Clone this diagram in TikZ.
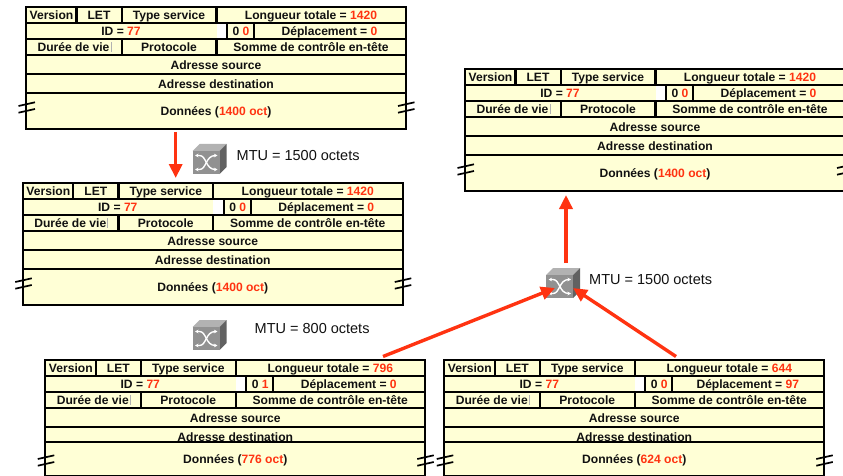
\documentclass[tikz,border=0pt]{standalone}
\usepackage{fontspec}
\setmainfont{Liberation Sans}
\usetikzlibrary{arrows.meta}
\definecolor{cream}{HTML}{FFFFD6}
\definecolor{redtxt}{HTML}{FF3311}
\definecolor{redarr}{HTML}{FF3311}
\definecolor{inkc}{HTML}{111111}
\tikzset{
  x=1pt,y=-1pt,
  rule/.style={line width=2.1pt,draw=black},
  cell/.style={inner sep=0pt,font=\fontsize{12.1}{13}\selectfont\bfseries,text=inkc,text height=8.6pt,text depth=2.4pt},
  mtu/.style={inner sep=0pt,font=\fontsize{14.5}{16}\selectfont,text=inkc,anchor=west},
  arr/.style={draw=redarr,line width=3.4pt,-{Triangle[length=14pt,width=13pt,fill=redarr]}},
  brk/.style={line width=1.7pt,draw=black},
}
\newcommand{\rv}[1]{\textcolor{redtxt}{#1}}
\newcommand{\pkh}{122}\newcommand{\pkdat}{105.5}\newcommand{\pkdst}{78}
% name, x, y, total, flag bit, offset, data, destination-bottom offset
\newcommand{\packet}[8]{%
\begin{scope}[shift={(#2,#3)}]
  \node[inner sep=0pt,fill=cream,minimum width=380pt,minimum height=\pkh pt,anchor=north west] (#1) at (0,0) {};
  \fill[white] (190.5,16) rectangle (201,32);
  \fill[black!30] (84.5,35) rectangle (85.5,45);
  \foreach \yy in {16,32,48,67,#8}{\draw[rule] (0,\yy) -- (380,\yy);}
  \draw[rule] (-1,0) -- (381,0);
  \draw[rule] (0,0) -- (0,\pkh);
  \draw[rule] (380,0) -- (380,\pkh);
  \draw[rule] (-1,\pkh) -- (381,\pkh);
  \draw[rule] (50.5,0) -- (50.5,16);
  \draw[rule] (95.7,0) -- (95.7,16);
  \draw[rule] (190.5,0) -- (190.5,16);
  \draw[rule] (201,15) -- (201,33);
  \draw[rule] (228,15) -- (228,33);
  \draw[rule] (95.7,32) -- (95.7,48);
  \draw[rule] (190.5,32) -- (190.5,48);
  \draw[brk] (-7.5,99) -- (9,95.3);
  \draw[brk] (-7.5,105.7) -- (9,102);
  \draw[brk] (372,99) -- (388.5,95.3);
  \draw[brk] (372,105.7) -- (388.5,102);
  \node[cell] (#1-ver) at (25.5,9.7) {Version};
  \node[cell] (#1-let) at (73,9.7) {LET};
  \node[cell] (#1-tos) at (143,9.7) {Type service};
  \node[cell] (#1-len) at (285,9.7) {Longueur totale = \rv{#4}};
  \node[cell] (#1-id) at (95,25.7) {ID = \rv{77}};
  \node[cell] (#1-f0) at (210,25.7) {0};
  \node[cell] (#1-f1) at (220,25.7) {\rv{#5}};
  \node[cell] (#1-off) at (303.5,25.7) {Déplacement = \rv{#6}};
  \node[cell] (#1-ttl) at (47.5,41) {Durée de vie};
  \node[cell] (#1-pro) at (143,41) {Protocole};
  \node[cell] (#1-chk) at (285,41) {Somme de contrôle en-tête};
  \node[cell] (#1-src) at (190,59) {Adresse source};
  \node[cell] (#1-dst) at (190,\pkdst) {Adresse destination};
  \draw[rule] (0,#8) -- (380,#8);
  \node[cell] (#1-dat) at (190,\pkdat) {Données (\rv{#7})};
\end{scope}}
\newcommand{\switchicon}[3]{%
\begin{scope}[shift={(#2,#3)}]
  \node[inner sep=0pt,minimum width=34pt,minimum height=30pt,anchor=north west] (#1) at (0,0) {};
  \fill[black!30] (0,7) -- (7,0) -- (34,0) -- (27,7) -- cycle;
  \fill[black!62] (27,7) -- (34,0) -- (34,23) -- (27,30) -- cycle;
  \fill[black!43] (0,7) rectangle (27,30);
  \draw[white,line width=1.4pt,{Stealth[length=3.5pt,width=3.5pt]}-{Stealth[length=3.5pt,width=3.5pt]}] (2.5,11.5) -- (7,11.5) .. controls (14,11.5) and (13,25.5) .. (25,25.5);
  \draw[white,line width=1.4pt,{Stealth[length=3.5pt,width=3.5pt]}-{Stealth[length=3.5pt,width=3.5pt]}] (2.5,25.5) -- (7,25.5) .. controls (14,25.5) and (13,11.5) .. (25,11.5);
\end{scope}}
\begin{document}
\begin{tikzpicture}
  \useasboundingbox (0,0) rectangle (843,476);
  \clip (0,0) rectangle (843,476);
  \packet{pa}{26}{7}{1420}{0}{0}{1400 oct}{86}
  \packet{pb}{22.8}{183}{1420}{0}{0}{1400 oct}{86}
  \packet{pc}{465}{69}{1420}{0}{0}{1400 oct}{86}
  \renewcommand{\pkh}{116.5}\renewcommand{\pkdat}{100}\renewcommand{\pkdst}{78.5}
  \packet{pd}{45.3}{360}{796}{1}{0}{776 oct}{82}
  \packet{pe}{444.3}{360}{644}{0}{97}{624 oct}{82}
  \switchicon{swa}{192.5}{144}
  \switchicon{swb}{192.5}{320}
  \switchicon{swc}{546}{268}
  \node[mtu] (ma) at (236.5,155.5) {MTU = 1500 octets};
  \node[mtu] (mb) at (254.5,328.5) {MTU = 800 octets};
  \node[mtu] (mc) at (589,280) {MTU = 1500 octets};
  \coordinate (a1) at (175.7,132);
  \coordinate (a2) at (175.7,178);
  \coordinate (b1) at (566,263);
  \coordinate (b2) at (566,195);
  \coordinate (c1) at (383,356.5);
  \coordinate (c2) at (555,288);
  \coordinate (d1) at (676,356.5);
  \coordinate (d2) at (573,288);
  \draw[arr] (a1) -- (a2);
  \draw[arr] (b1) -- (b2);
  \draw[arr] (c1) -- (c2);
  \draw[arr] (d1) -- (d2);
\end{tikzpicture}
\end{document}
